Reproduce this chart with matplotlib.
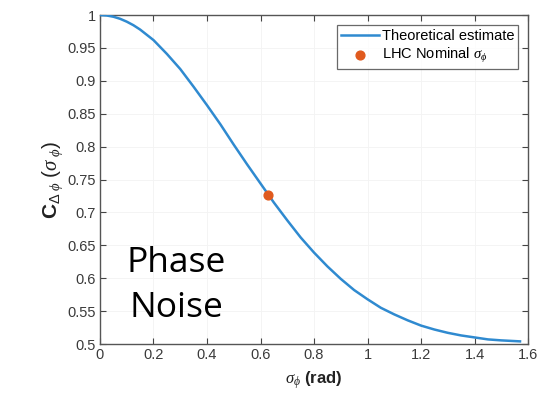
import matplotlib
matplotlib.use("Agg")
import matplotlib.pyplot as plt

sigma = [0.00, 0.025, 0.05, 0.075, 0.10, 0.125, 0.15, 0.20, 0.25, 0.30, 0.35, 0.40, 0.45, 0.50, 0.55,
         0.60, 0.65, 0.70, 0.75, 0.80, 0.85, 0.90, 0.95, 1.00, 1.05, 1.10, 1.15,
         1.20, 1.25, 1.30, 1.35, 1.40, 1.45, 1.50, 1.57]
coef = [1.000, 0.9994, 0.9975, 0.9944, 0.990, 0.9846, 0.978, 0.962, 0.941, 0.918, 0.891, 0.863, 0.834, 0.803, 0.773,
        0.744, 0.715, 0.688, 0.662, 0.639, 0.618, 0.599, 0.582, 0.568, 0.555, 0.545, 0.536,
        0.528, 0.522, 0.517, 0.513, 0.510, 0.507, 0.5055, 0.504]
nominal_sigma = [0.628]
nominal_coef = [0.727]
xticks = [0, 0.2, 0.4, 0.6, 0.8, 1, 1.2, 1.4, 1.6]
xticklabels = ["0", "0.2", "0.4", "0.6", "0.8", "1", "1.2", "1.4", "1.6"]
yticks = [0.5, 0.55, 0.6, 0.65, 0.7, 0.75, 0.8, 0.85, 0.9, 0.95, 1.0]
yticklabels = ["0.5", "0.55", "0.6", "0.65", "0.7", "0.75", "0.8", "0.85", "0.9", "0.95", "1"]

plt.rcParams['font.family'] = ['Liberation Sans', 'DejaVu Sans']
plt.rcParams['mathtext.fontset'] = 'custom'
plt.rcParams['mathtext.it'] = 'Liberation Serif:italic'
plt.rcParams['mathtext.rm'] = 'Liberation Sans'
plt.rcParams['mathtext.bf'] = 'Liberation Sans:bold'

fig = plt.figure(figsize=(5.57, 3.97), dpi=100)
ax = fig.add_axes([0.1795, 0.1335, 0.7685, 0.8285])

ax.plot(sigma, coef, color='#2f8ad0', lw=1.8, label='Theoretical estimate', zorder=3)
ax.scatter(nominal_sigma, nominal_coef, s=40, color='#e05a1e', label=r'LHC Nominal $\sigma_{\phi}$', zorder=4)

ax.set_xlim(0, 1.6)
ax.set_ylim(0.5, 1.0)
ax.set_xticks(xticks)
ax.set_xticklabels(xticklabels)
ax.set_yticks(yticks)
ax.set_yticklabels(yticklabels)
ax.tick_params(direction='in', top=True, right=True, labelsize=10.5, colors='#444444',
               length=4, width=0.8, labelcolor='#3a3a3a', pad=3)
for s in ax.spines.values():
    s.set_color('#555555')
    s.set_linewidth(1.0)
ax.grid(True, color='#f3f3f3', lw=0.6)
ax.set_axisbelow(True)

ax.set_xlabel(r'$\sigma_{\phi}$ (rad)', fontsize=12, fontweight='bold', color='#222222', labelpad=5)
ax.set_ylabel(r'$\mathbf{C}_{\Delta\ \phi}\ (\sigma_{\ \phi})$', fontsize=15, color='#222222', labelpad=2)

leg = ax.legend(loc='upper right', fontsize=10.5, frameon=True, fancybox=False,
                edgecolor='#444444', borderpad=0.25, labelspacing=0.2, handlelength=2.6,
                handletextpad=0.2, borderaxespad=0.7)
leg.get_frame().set_linewidth(0.9)

ax.text(0.178, 0.178, 'Phase\nNoise', transform=ax.transAxes, fontsize=25.5,
        family='Open Sans', ha='center', va='center', linespacing=1.4, color='black')

fig.savefig('out.png', dpi=100)
